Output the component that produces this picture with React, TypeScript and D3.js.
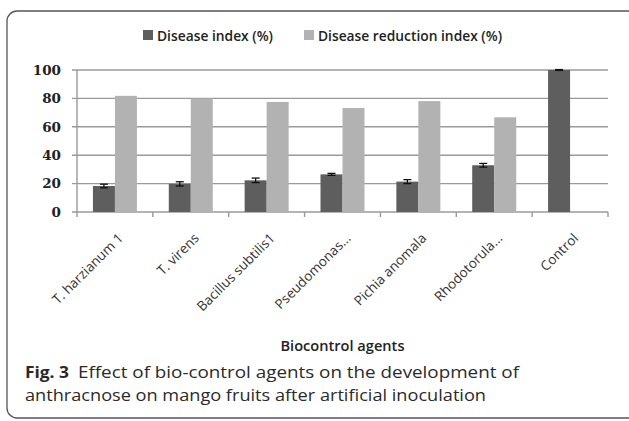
import React from "react";
import * as d3 from "d3";

const categories = [
  "T. harzianum 1",
  "T. virens",
  "Bacillus subtilis1",
  "Pseudomonas...",
  "Pichia anomala",
  "Rhodotorula...",
  "Control",
];
const diseaseIndex = [18.3, 19.8, 22.3, 26.5, 21.4, 32.9, 100];
const diseaseIndexErr = [1.3, 1.5, 1.6, 0.7, 1.4, 1.3, 0.3];
const reductionIndex: (number | null)[] = [81.8, 80.0, 77.5, 73.2, 78.1, 66.7, null];
const yTicks = [0, 20, 40, 60, 80, 100];
const seriesNames = ["Disease index (%)", "Disease reduction index (%)"];

const W = 629;
const H = 421;
const DARK = "#5e5e5e";
const LIGHT = "#b2b2b2";
const GRID = "#9a9a9a";
const SANS = "'Open Sans', 'Noto Sans', sans-serif";

export default function App() {
  const left = 77;
  const right = 608;
  const top = 70;
  const bottom = 212;

  const x0 = d3.scaleBand<string>().domain(categories).range([left, right]).padding(0);
  const groupW = x0.bandwidth() * 0.58;
  const x1 = d3.scaleBand<string>().domain(["di", "dri"]).range([0, groupW]).padding(0);
  const y = d3.scaleLinear().domain([0, 100]).range([bottom, top]);
  const bw = x1.bandwidth();
  const off = (x0.bandwidth() - groupW) / 2;
  const boundaries = d3.range(categories.length + 1).map((i) => left + i * x0.step());

  return (
    <svg
      width={W}
      height={H}
      style={{ position: "absolute", left: 0, top: 0, background: "#fff" }}
    >
      <rect x={7} y={11} width={640} height={407} rx={10} fill="none" stroke="#555" strokeWidth={1.3} />

      {/* Legend */}
      <rect x={143} y={30} width={10} height={10} fill={DARK} />
      <text x={157} y={41} fontFamily={SANS} fontWeight={600} fontSize={14.5} fill="#222"
        textLength={116} lengthAdjust="spacingAndGlyphs">{seriesNames[0]}</text>
      <rect x={304} y={30} width={10} height={10} fill={LIGHT} />
      <text x={318} y={41} fontFamily={SANS} fontWeight={600} fontSize={14.5} fill="#222"
        textLength={184} lengthAdjust="spacingAndGlyphs">{seriesNames[1]}</text>

      {/* Gridlines & y ticks */}
      {yTicks.map((t) => (
        <g key={t}>
          <line x1={left - 5} x2={right} y1={y(t)} y2={y(t)} stroke={GRID} strokeWidth={1.4} />
          <text x={61} y={y(t)} dy="0.36em" textAnchor="end" fontFamily="'DejaVu Serif', serif"
            fontWeight="bold" fontSize={13.5} fill="#222">{t}</text>
        </g>
      ))}
      <line x1={left} x2={left} y1={top} y2={bottom} stroke={GRID} strokeWidth={1.4} />
      {boundaries.map((bx, i) => (
        <line key={i} x1={bx} x2={bx} y1={bottom} y2={bottom + 5} stroke={GRID} strokeWidth={1.4} />
      ))}

      {/* Bars */}
      {categories.map((c, i) => {
        const gx = (x0(c) as number) + off;
        const dx = gx + (x1("di") as number);
        const lx = gx + (x1("dri") as number);
        const v = diseaseIndex[i];
        const e = diseaseIndexErr[i];
        const r = reductionIndex[i];
        const cx = dx + bw / 2;
        return (
          <g key={c}>
            <rect x={dx} y={y(v)} width={bw} height={y(0) - y(v)} fill={DARK} />
            {r !== null && (
              <rect x={lx} y={y(r)} width={bw} height={y(0) - y(r)} fill={LIGHT} />
            )}
            <g stroke="#111" strokeWidth={1.3}>
              <line x1={cx} x2={cx} y1={y(v + e)} y2={y(v - e)} />
              <line x1={cx - 4} x2={cx + 4} y1={y(v + e)} y2={y(v + e)} />
              <line x1={cx - 4} x2={cx + 4} y1={y(v - e)} y2={y(v - e)} />
            </g>
          </g>
        );
      })}

      {/* X labels */}
      {categories.map((c) => {
        const cx = (x0(c) as number) + x0.bandwidth() / 2;
        const ex = cx + 9;
        const ey = 239;
        return (
          <text key={c} x={ex} y={ey} textAnchor="end" transform={`rotate(-45, ${ex}, ${ey})`}
            fontFamily={SANS} fontSize={13.5} fill="#333">{c}</text>
        );
      })}

      {/* Axis title */}
      <text x={342.5} y={351} textAnchor="middle" fontFamily={SANS} fontWeight={600} fontSize={13.5}
        fill="#222" textLength={124} lengthAdjust="spacingAndGlyphs">Biocontrol agents</text>

      {/* Caption */}
      <text x={25} y={378} fontFamily={SANS} fontWeight="bold" fontSize={16.5} fill="#2a2a2a"
        textLength={44} lengthAdjust="spacingAndGlyphs">Fig. 3</text>
      <text x={78} y={378} fontFamily={SANS} fontSize={16.5} fill="#2a2a2a"
        textLength={441} lengthAdjust="spacingAndGlyphs">Effect of bio-control agents on the development of</text>
      <text x={25} y={401} fontFamily={SANS} fontSize={16.5} fill="#2a2a2a"
        textLength={461} lengthAdjust="spacingAndGlyphs">anthracnose on mango fruits after artificial inoculation</text>
    </svg>
  );
}
